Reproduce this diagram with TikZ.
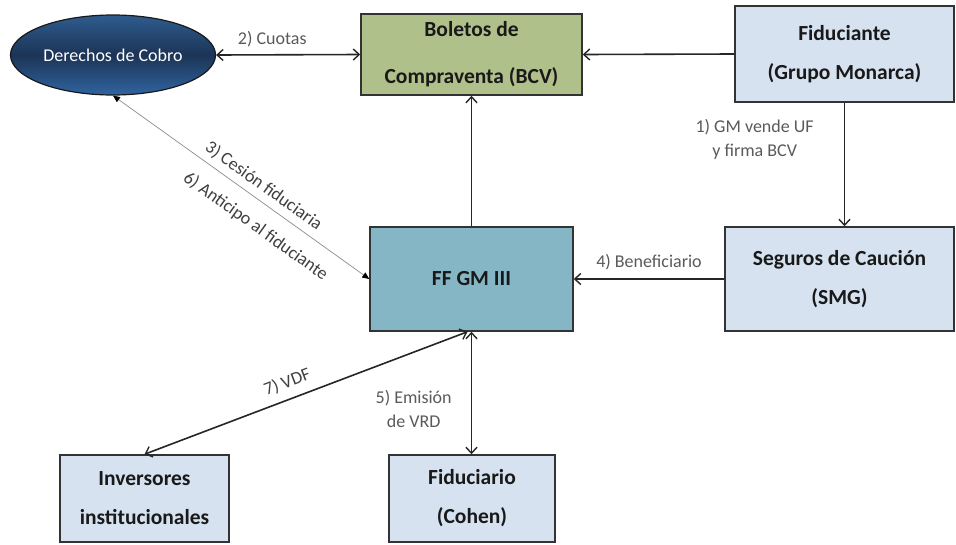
\documentclass[tikz,border=0pt]{standalone}
\usepackage{fontspec}
\setmainfont{Carlito}
\usetikzlibrary{arrows.meta,shapes.geometric}
\definecolor{boxblue}{HTML}{D6E2F0}
\definecolor{bcvgreen}{HTML}{B0C08B}
\definecolor{ffteal}{HTML}{85B6C5}
\definecolor{bordercol}{HTML}{333333}
\definecolor{labgray}{HTML}{5A5A5A}
\definecolor{navydark}{HTML}{1C3456}
\definecolor{navytop}{HTML}{2E5C8E}
\definecolor{navybot}{HTML}{3064A0}
\tikzset{
  box/.style={draw=bordercol, line width=1.5pt, rectangle, inner sep=0pt,
    align=center, text=black!90, font=\fontsize{21.5}{26}\selectfont\bfseries},
  conn/.style={draw=black!85, line width=1.6pt},
  barb/.tip={Straight Barb[length=6pt,width=11pt,line width=1.4pt]},
  tri/.tip={Triangle[length=7pt,width=6pt,color=black]},
  elab/.style={text=labgray, font=\fontsize{18}{24}\selectfont, inner sep=0pt, align=center},
  dlab/.style={text=black!75, font=\fontsize{18}{24}\selectfont, inner sep=0pt}
}
\begin{document}
\begin{tikzpicture}[x=1pt,y=-1pt]
\useasboundingbox[fill=white] (0,0) rectangle (956,544);

\node[ellipse, draw=black!90, line width=1.2pt, minimum width=205pt, minimum height=80pt,
  inner sep=0pt, top color=navytop, bottom color=navybot, middle color=navydark,
  text=white, font=\fontsize{18}{20}\selectfont] (ell) at (113,55) {Derechos de Cobro};

\node[box, fill=bcvgreen, minimum width=221pt, minimum height=81pt] (bcv) at (471.5,54.5)
  {Boletos de\\[21pt]Compraventa (BCV)};
\node[box, fill=boxblue, minimum width=219pt, minimum height=96pt] (fid) at (844.5,54)
  {Fiduciante\\[13pt](Grupo Monarca)};
\node[box, fill=ffteal, minimum width=203pt, minimum height=104pt] (ff) at (471.5,279)
  {FF GM III};
\node[box, fill=boxblue, minimum width=229pt, minimum height=104pt] (seg) at (839.5,279)
  {Seguros de Caución\\[13pt](SMG)};
\node[box, fill=boxblue, minimum width=169pt, minimum height=87pt] (inv) at (144.5,498.5)
  {Inversores\\[13pt]institucionales};
\node[box, fill=boxblue, minimum width=166pt, minimum height=87pt] (fidc) at (472,498.5)
  {Fiduciario\\[13pt](Cohen)};

\draw[conn, barb-barb] (ell.east) -- node[elab, pos=0.39, above=7pt] {2) Cuotas} (bcv.west);
\draw[conn, -barb] (fid.west) -- (bcv.east);
\draw[conn, -barb] (fid.south) -- node[elab, pos=0.3, left=30pt] {1) GM vende UF\\y firma BCV} (fid.south |- seg.north);
\draw[conn, -barb] (ff.north) -- (bcv.south);
\draw[conn, -barb] (seg.west) -- node[elab, pos=0.5, above=8pt] {4) Beneficiario} (ff.east);
\draw[draw=black!45, line width=0.7pt, tri-tri]
  (ell.south) -- node[dlab, sloped, pos=0.556, above=6pt] {3) Cesión fiduciaria}
  node[dlab, sloped, pos=0.61, below=15pt] {6) Anticipo al fiduciante} (ff.west);
\draw[conn, barb-barb] ([xshift=-4pt]ff.south) -- node[dlab, sloped, pos=0.54, above=8pt] {7) VDF} (inv.north);
\draw[conn, barb-barb] (ff.south) -- node[elab, pos=0.63, left=19pt] {5) Emisión\\de VRD} (ff.south |- fidc.north);
\end{tikzpicture}
\end{document}
